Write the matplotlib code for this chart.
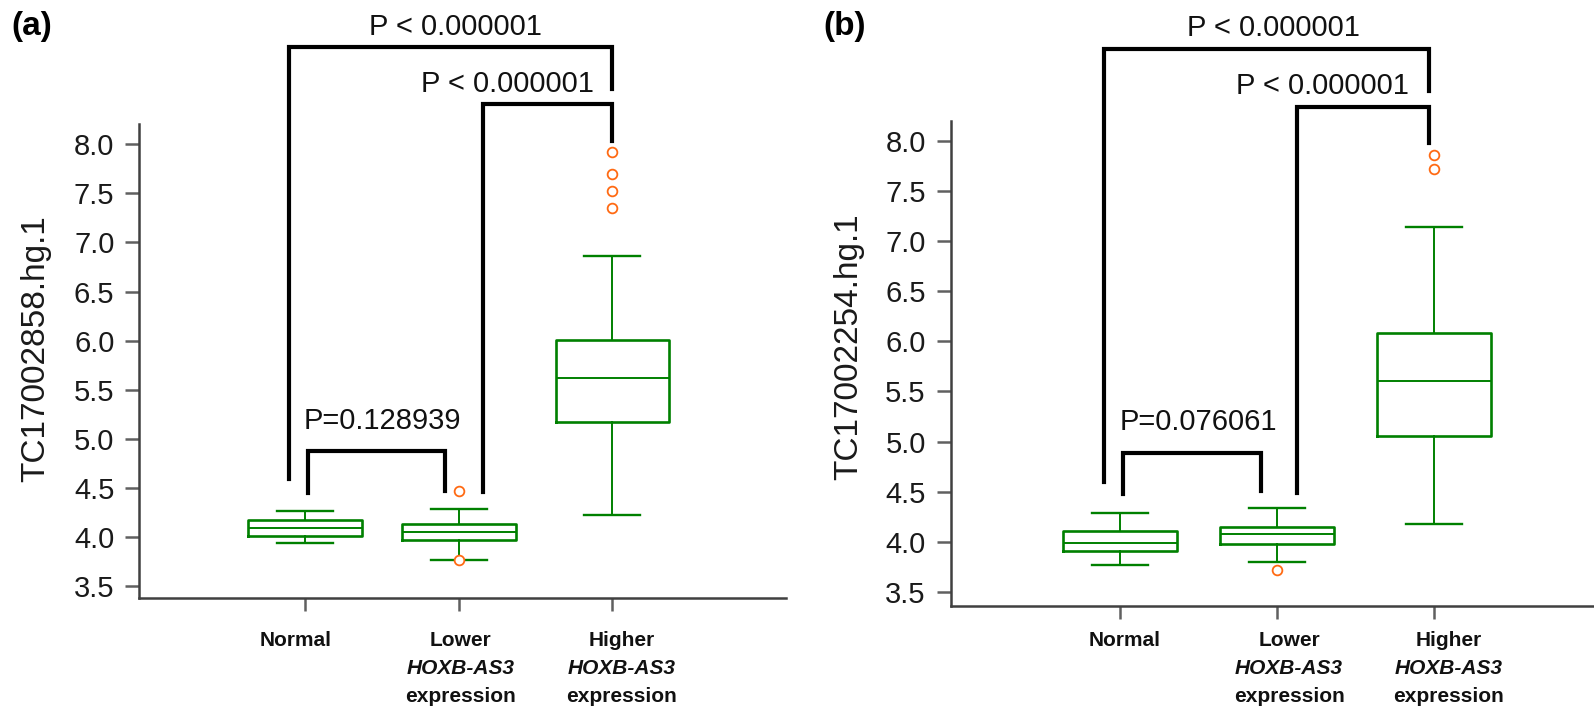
import numpy as np
import matplotlib.pyplot as plt
from matplotlib.transforms import blended_transform_factory, offset_copy

plt.rcParams['font.family'] = ['Liberation Sans', 'DejaVu Sans']

groups = ['Normal', 'Lower', 'Higher']
label_line2 = ['', 'HOXB-AS3', 'HOXB-AS3']
label_line3 = ['', 'expression', 'expression']
positions = [1, 2, 3]

# panel (a): TC17002858.hg.1
a_whislo = [3.94, 3.76, 4.22]
a_q1 = [4.01, 3.97, 5.17]
a_med = [4.09, 4.05, 5.62]
a_q3 = [4.17, 4.13, 6.01]
a_whishi = [4.26, 4.28, 6.86]
a_fliers = [[], [4.47, 3.76], [7.92, 7.70, 7.52, 7.35]]

# panel (b): TC17002254.hg.1
b_whislo = [3.77, 3.80, 4.18]
b_q1 = [3.91, 3.98, 5.06]
b_med = [3.99, 4.08, 5.60]
b_q3 = [4.11, 4.15, 6.08]
b_whishi = [4.29, 4.34, 7.14]
b_fliers = [[], [3.72], [7.86, 7.72]]

a_pvals = ['P < 0.000001', 'P < 0.000001', 'P=0.128939']
b_pvals = ['P < 0.000001', 'P < 0.000001', 'P=0.076061']

# brackets: x left, x right, bar y, left leg end, right leg end, text x, text baseline
a_brackets = [(0.894, 3.0, 8.99, 4.59, 8.56, 1.98, 9.11),
              (2.156, 3.0, 8.41, 4.46, 8.03, 2.32, 8.53),
              (1.02, 1.91, 4.87, 4.45, 4.47, 1.50, 5.095)]
b_brackets = [(0.90, 2.97, 8.91, 4.60, 8.50, 1.98, 9.04),
              (2.13, 2.97, 8.34, 4.49, 7.98, 2.29, 8.47),
              (1.02, 1.90, 4.89, 4.48, 4.51, 1.50, 5.11)]

green = '#008000'
orange = '#ff6a13'
spine_col = '#404040'

fig = plt.figure(figsize=(15.94, 7.12), dpi=100)
ax_a = fig.add_axes([0.0875, 0.1601, 0.4056, 0.6657])
ax_b = fig.add_axes([0.5964, 0.1489, 0.4036, 0.6810])


def draw_panel(ax, whislo, q1, med, q3, whishi, fliers, pvals, brackets,
               ylabel, ylim, xlim, width, capw, ylab_pos, label_dx):
    stats = []
    for i in range(len(groups)):
        stats.append(dict(whislo=whislo[i], q1=q1[i], med=med[i], q3=q3[i],
                          whishi=whishi[i], fliers=np.array(fliers[i])))
    ax.bxp(stats, positions=positions, widths=width, capwidths=capw,
           showfliers=True, manage_ticks=False,
           boxprops=dict(color=green, linewidth=1.9),
           whiskerprops=dict(color=green, linewidth=1.4),
           capprops=dict(color=green, linewidth=1.7),
           medianprops=dict(color=green, linewidth=1.4),
           flierprops=dict(marker='o', markerfacecolor='white',
                           markeredgecolor=orange, markersize=7,
                           markeredgewidth=1.3))

    for (x1, x2, yb, yl, yr, tx, ty), txt in zip(brackets, pvals):
        ax.plot([x1, x1, x2, x2], [yl, yb, yb, yr], color='black',
                linewidth=3.0, solid_joinstyle='miter', clip_on=False)
        ax.text(tx, ty, txt, ha='center', va='baseline', fontsize=21,
                color='#111111')

    ax.set_xlim(*xlim)
    ax.set_ylim(*ylim)
    ax.set_yticks(np.arange(3.5, 8.01, 0.5))
    ax.set_yticklabels([f'{v:.1f}' for v in np.arange(3.5, 8.01, 0.5)])
    ax.set_xticks(positions)
    ax.set_xticklabels([])
    for s in ['top', 'right']:
        ax.spines[s].set_visible(False)
    for s in ['left', 'bottom']:
        ax.spines[s].set_color(spine_col)
        ax.spines[s].set_linewidth(1.8)
    ax.tick_params(axis='y', length=10, width=1.8, color='#606060',
                   labelsize=21, pad=8, labelcolor='#1a1a1a')
    ax.tick_params(axis='x', length=9, width=1.8, color='#606060')
    ax.set_ylabel(ylabel, fontsize=24, color='#1a1a1a')
    ax.yaxis.set_label_coords(*ylab_pos)

    tr = blended_transform_factory(ax.transData, fig.transFigure)
    for x, dx, l1, l2, l3 in zip(positions, label_dx, groups, label_line2,
                                 label_line3):
        t = offset_copy(tr, fig=fig, x=dx, y=0, units='dots')
        ax.text(x, 1 - 641 / 712, l1, transform=t, ha='center', va='center',
                fontsize=15, fontweight='bold', color='#111111')
        if l2:
            ax.text(x, 1 - 669 / 712, l2, transform=t, ha='center',
                    va='center', fontsize=15, fontweight='bold',
                    fontstyle='italic', color='#111111')
        if l3:
            ax.text(x, 1 - 697 / 712, l3, transform=t, ha='center',
                    va='center', fontsize=15, fontweight='bold',
                    color='#111111')


draw_panel(ax_a, a_whislo, a_q1, a_med, a_q3, a_whishi, a_fliers, a_pvals,
           a_brackets, 'TC17002858.hg.1', (3.376, 8.207), (-0.078, 4.13),
           0.74, 0.365, (-0.137, 0.527), [-9, 2, 9])
draw_panel(ax_b, b_whislo, b_q1, b_med, b_q3, b_whishi, b_fliers, b_pvals,
           b_brackets, 'TC17002254.hg.1', (3.36, 8.195), (-0.08, 4.02),
           0.73, 0.36, (-0.134, 0.534), [4, 12, 15])

fig.text(11 / 1594, 1 - 26 / 712, '(a)', fontsize=24, fontweight='bold',
         va='center', ha='left')
fig.text(823 / 1594, 1 - 26 / 712, '(b)', fontsize=24, fontweight='bold',
         va='center', ha='left')

fig.savefig('out.png', dpi=100)
